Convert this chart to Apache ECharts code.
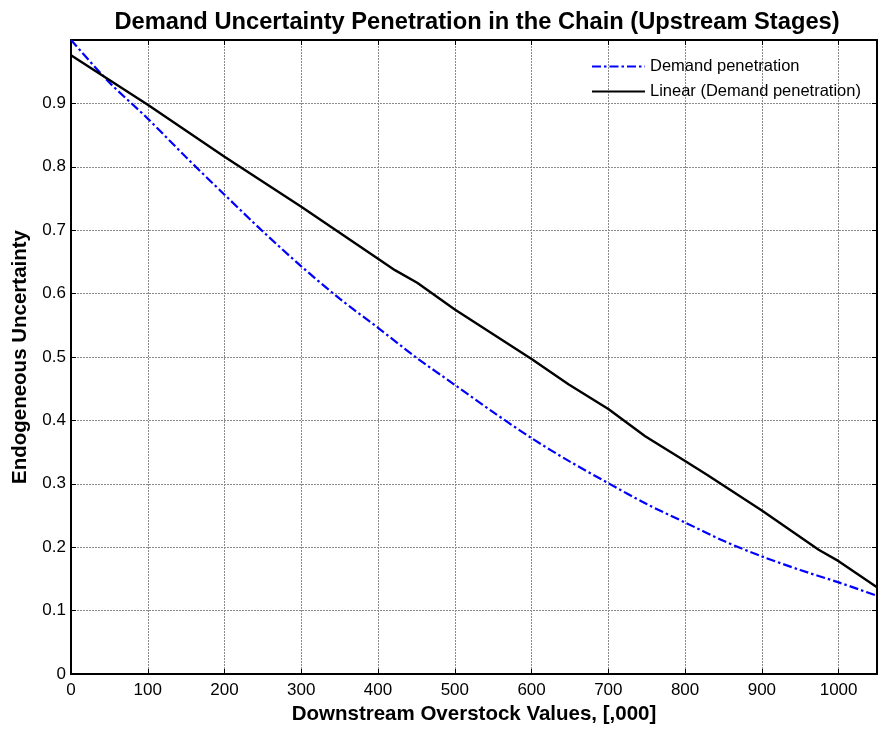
<!DOCTYPE html>
<html>
<head>
<meta charset="utf-8">
<script src="https://cdn.jsdelivr.net/npm/echarts@6/dist/echarts.min.js"></script>
<style>html,body{margin:0;padding:0;background:#fff}#c{width:878px;height:730px}</style>
</head>
<body>
<div id="c"></div>
<script>
const titleText = 'Demand Uncertainty Penetration in the Chain (Upstream Stages)';
const xTitle = 'Downstream Overstock Values, [,000]';
const yTitle = 'Endogeneous Uncertainty';
const seriesNames = ['Demand penetration', 'Linear (Demand penetration)'];

const demandX = [0, 50, 100, 150, 200, 250, 300, 350, 400, 450, 500, 550, 600, 650, 700, 750, 800, 850, 900, 950, 1000, 1050];
const demandY = [1.0, 0.933, 0.876, 0.815, 0.756, 0.698, 0.643, 0.592, 0.546, 0.499, 0.456, 0.413, 0.372, 0.335, 0.301, 0.268, 0.239, 0.210, 0.1855, 0.164, 0.1445, 0.1235];

const linearX = [0, 50, 100, 200, 300, 400, 422, 451, 500, 600, 648, 700, 748, 800, 829, 877, 900, 974, 1000, 1050];
const linearY = [0.976, 0.937, 0.898, 0.816, 0.737, 0.655, 0.637, 0.617, 0.575, 0.497, 0.457, 0.418, 0.375, 0.336, 0.314, 0.276, 0.258, 0.196, 0.178, 0.137];

const xMin = 0, xMax = 1050, xStep = 100;
const yMin = 0, yMax = 1, yStep = 0.1;

const F = 'Arial, "Liberation Sans", Helvetica, sans-serif';
const chart = echarts.init(document.getElementById('c'), null, {renderer: 'canvas'});

const gridLine = {show: true, lineStyle: {color: '#8a8a8a', width: 1, type: [2, 1]}};
const yFmt = v => (Math.abs(v) < 1e-9 ? '0' : (Math.round(v * 10) / 10).toString());
const xFmt = v => String(Math.round(v));

chart.setOption({
  animation: false,
  backgroundColor: '#fff',
  title: {
    text: titleText, left: 472, top: 5, textAlign: 'center',
    textStyle: {fontFamily: F, fontWeight: 'bold', fontSize: 23.7, color: '#000'}
  },
  legend: {
    orient: 'vertical', left: 586, top: 53, itemWidth: 53, itemHeight: 16, itemGap: 8,
    itemStyle: {opacity: 0},
    textStyle: {fontFamily: F, fontSize: 16.5, color: '#000'},
    data: seriesNames
  },
  grid: {left: 71, right: 1, top: 40, bottom: 56, show: true, borderColor: '#000', borderWidth: 1.5, backgroundColor: '#fff'},
  xAxis: [{
    type: 'value', min: xMin, max: xMax, interval: xStep, position: 'bottom',
    name: xTitle, nameLocation: 'middle', nameGap: 28,
    nameTextStyle: {fontFamily: F, fontWeight: 'bold', fontSize: 20.5, color: '#000'},
    axisLine: {show: true, onZero: false, lineStyle: {color: '#000', width: 2}},
    axisTick: {show: true, inside: true, length: 5, lineStyle: {color: '#000'}},
    axisLabel: {fontFamily: F, fontSize: 17, color: '#000', margin: 8, showMaxLabel: false, formatter: xFmt},
    splitLine: gridLine
  }, {
    type: 'value', min: xMin, max: xMax, interval: xStep, position: 'top',
    axisLine: {show: true, onZero: false, lineStyle: {color: '#000', width: 2}},
    axisTick: {show: true, inside: true, length: 5, lineStyle: {color: '#000'}},
    axisLabel: {show: false}, splitLine: {show: false}
  }],
  yAxis: [{
    type: 'value', min: yMin, max: yMax, interval: yStep, position: 'left',
    name: yTitle, nameLocation: 'middle', nameGap: 40, nameRotate: 90,
    nameTextStyle: {fontFamily: F, fontWeight: 'bold', fontSize: 20.5, color: '#000'},
    axisLine: {show: true, onZero: false, lineStyle: {color: '#000', width: 2}},
    axisTick: {show: true, inside: true, length: 5, lineStyle: {color: '#000'}},
    axisLabel: {fontFamily: F, fontSize: 17, color: '#000', margin: 5, showMaxLabel: false, formatter: yFmt},
    splitLine: gridLine
  }, {
    type: 'value', min: yMin, max: yMax, interval: yStep, position: 'right',
    axisLine: {show: true, onZero: false, lineStyle: {color: '#000', width: 2}},
    axisTick: {show: true, inside: true, length: 5, lineStyle: {color: '#000'}},
    axisLabel: {show: false}, splitLine: {show: false}
  }],
  series: [{
    name: seriesNames[0], type: 'line', xAxisIndex: 0, yAxisIndex: 0,
    data: demandX.map((x, i) => [x, demandY[i]]),
    smooth: 0.3, symbol: 'none', color: '#0000ff',
    lineStyle: {color: '#0000ff', width: 2.2, type: [9, 3, 2.5, 3]}
  }, {
    name: seriesNames[1], type: 'line', xAxisIndex: 0, yAxisIndex: 0,
    data: linearX.map((x, i) => [x, linearY[i]]),
    symbol: 'none', color: '#000',
    lineStyle: {color: '#000', width: 2.4, type: 'solid'}
  }]
});
</script>
</body>
</html>
